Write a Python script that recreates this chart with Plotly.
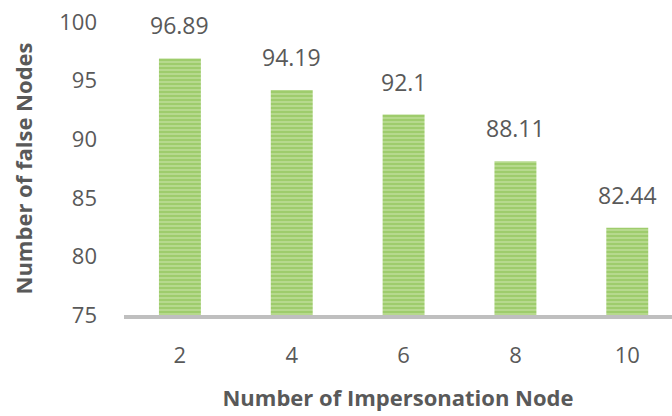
import plotly.graph_objects as go

categories = ["2", "4", "6", "8", "10"]
values = [96.89, 94.19, 92.1, 88.11, 82.44]
value_labels = ["96.89", "94.19", "92.1", "88.11", "82.44"]
y_ticks = [75, 80, 85, 90, 95, 100]

font_family = "Open Sans, Segoe UI, sans-serif"
gray = "#595959"

fig = go.Figure()
fig.add_trace(go.Bar(
    x=categories,
    y=values,
    width=0.375,
    marker=dict(
        color="#B2D789",
        line=dict(width=0),
        pattern=dict(shape="-", fgcolor="#84BE48", bgcolor="#B8DA90", size=4, solidity=0.55),
    ),
    showlegend=False,
    hoverinfo="skip",
))

for i, (v, t) in enumerate(zip(values, value_labels)):
    fig.add_annotation(x=i, y=v, text=t, showarrow=False, yanchor="bottom",
                       yshift=15, font=dict(family=font_family, size=23, color=gray))

fig.update_layout(
    width=672, height=416,
    margin=dict(l=124, r=0, t=22, b=101),
    paper_bgcolor="white", plot_bgcolor="white",
    font=dict(family=font_family, color=gray),
    bargap=0.625,
    xaxis=dict(
        type="category",
        range=[-0.5, 4.4],
        showline=True, linecolor="#BFBFBF", linewidth=4,
        showgrid=False, ticks="", ticklabelstandoff=18,
        tickfont=dict(size=22, color=gray),
        title=dict(text="<b>Number of Impersonation Node</b>", font=dict(size=22, color=gray), standoff=23),
    ),
    yaxis=dict(
        range=[75, 100],
        tickvals=y_ticks,
        showline=False, showgrid=False, zeroline=False, ticks="",
        ticklabelstandoff=26,
        tickfont=dict(size=22, color=gray),
        title=dict(text="<b>Number of false Nodes</b>", font=dict(size=22, color=gray), standoff=20),
    ),
)

fig.write_html("out.html")
